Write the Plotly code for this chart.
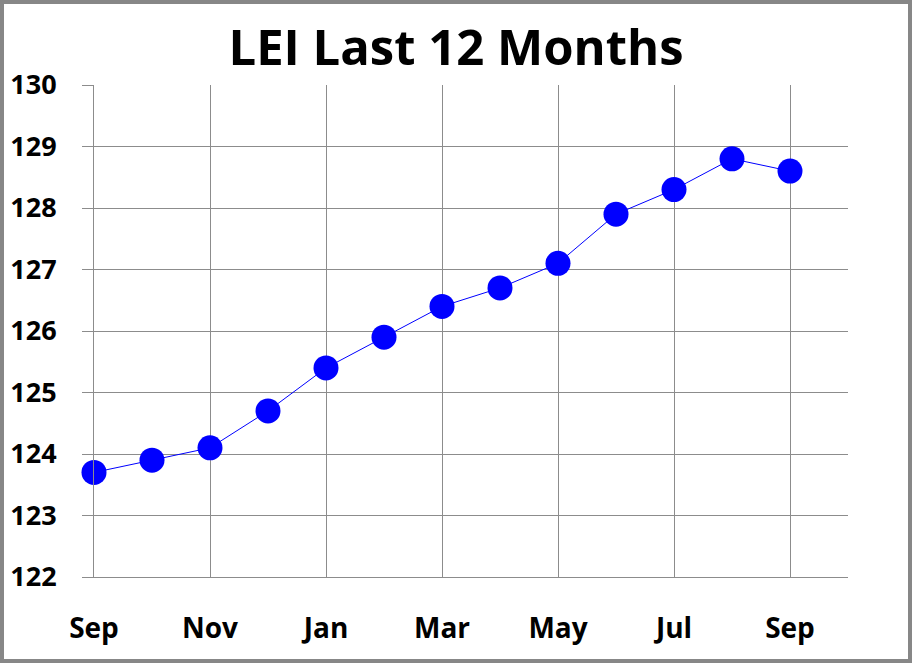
import plotly.graph_objects as go

months = ["Sep", "Oct", "Nov", "Dec", "Jan", "Feb", "Mar", "Apr", "May", "Jun", "Jul", "Aug", "Sep"]
lei_values = [123.7, 123.9, 124.1, 124.7, 125.4, 125.9, 126.4, 126.7, 127.1, 127.9, 128.3, 128.8, 128.6]
tick_positions = [0, 2, 4, 6, 8, 10, 12]
tick_labels = ["Sep", "Nov", "Jan", "Mar", "May", "Jul", "Sep"]
y_ticks = [122, 123, 124, 125, 126, 127, 128, 129, 130]

W, H = 912, 663
L, R, T, B = 94, 64, 85, 86
pw, ph = W - L - R, H - T - B

x_idx = list(range(len(months)))

fig = go.Figure()
fig.add_trace(go.Scatter(
    x=x_idx, y=lei_values, mode="lines+markers",
    line=dict(color="#0000FF", width=1),
    marker=dict(color="#0000FF", size=25, line=dict(width=0)),
    text=months, hoverinfo="text+y", cliponaxis=False,
))

font_family = "Open Sans, Liberation Sans, sans-serif"
grid = "#8C8C8C"

fig.update_layout(
    width=W, height=H,
    margin=dict(l=L, r=R, t=T, b=B, autoexpand=False),
    paper_bgcolor="white", plot_bgcolor="white",
    showlegend=False,
    title=dict(text="<b>LEI Last 12 Months</b>", x=0.5, xanchor="center",
               y=1 - 48 / H, yanchor="middle",
               font=dict(family=font_family, size=49, color="black")),
    xaxis=dict(range=[0, 13], tickvals=tick_positions, ticktext=tick_labels,
               showgrid=True, gridcolor=grid, gridwidth=1,
               showline=True, linecolor=grid, linewidth=1, automargin=False,
               ticks="", ticklabelstandoff=26, zeroline=False,
               tickfont=dict(family=font_family, size=28, color="black", weight="bold")),
    yaxis=dict(range=[122, 130], tickvals=y_ticks,
               showgrid=True, gridcolor=grid, gridwidth=1,
               showline=True, linecolor=grid, linewidth=1, automargin=False,
               ticks="outside", ticklen=11, tickcolor=grid, tickwidth=1,
               ticklabelstandoff=20, zeroline=False,
               tickfont=dict(family=font_family, size=27, color="black", weight="bold")),
)

fig.add_shape(type="rect", xref="paper", yref="paper",
              x0=(-L + 2) / pw, x1=(W - L - 2) / pw,
              y0=(-B + 2) / ph, y1=(H - B - 2) / ph,
              line=dict(color="#878787", width=4), fillcolor="rgba(0,0,0,0)", layer="above")

fig.write_html("out.html", config={"displayModeBar": False})

with open("out.html", "r", encoding="utf-8") as f:
    html = f.read()
html = html.replace("<body>", '<body style="margin:0;padding:0;overflow:hidden">', 1)
html = html.replace("<head>", '<head><style>html,body{margin:0;padding:0;}</style>', 1)
with open("out.html", "w", encoding="utf-8") as f:
    f.write(html)
